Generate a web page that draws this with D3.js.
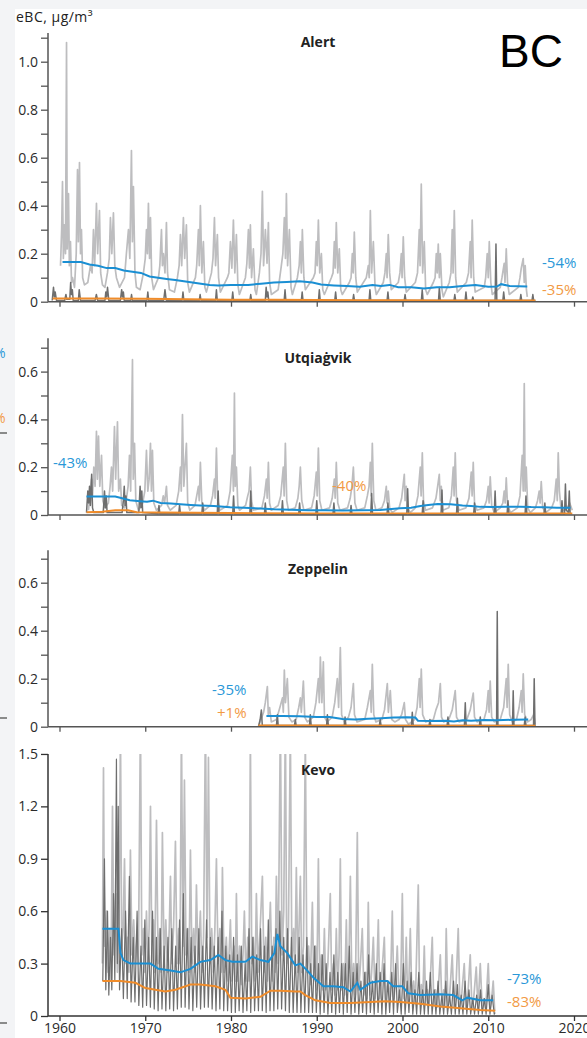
<!DOCTYPE html>
<html>
<head>
<meta charset="utf-8">
<script src="https://cdn.jsdelivr.net/npm/d3@7"></script>
<style>
  html, body { margin: 0; padding: 0; background: #ffffff; }
  svg { display: block; }
  text { font-family: 'Open Sans', 'DejaVu Sans', sans-serif; }
</style>
</head>
<body>
<svg id="chart" width="587" height="1038"></svg>
<script>
// ---------------------------------------------------------------
// eBC concentrations at four Arctic stations, [year, µg/m³]
// light grey / dark grey: individual records, blue / orange: trends
// ---------------------------------------------------------------

const xTickYears = [1960, 1970, 1980, 1990, 2000, 2010, 2020];

const alertLight = [
  [1960.12,0.15],[1960.25,0.3],[1960.35,0.5],[1960.45,0.18],[1960.58,0.32],[1960.7,0.2],[1960.82,1.08],[1960.9,0.22],[1961.05,0.45],[1961.15,0.15],[1961.28,0.25],[1961.4,0.08],[1961.52,0.1],[1961.75,0.06],
  [1961.95,0.2],[1962.1,0.55],[1962.2,0.25],[1962.33,0.58],[1962.45,0.2],[1962.56,0.3],[1962.7,0.1],[1962.91,0.07],[1963.3,0.08],
  [1963.61,0.15],[1963.8,0.12],[1963.96,0.3],[1964.1,0.15],[1964.31,0.41],[1964.45,0.2],[1964.66,0.38],[1964.8,0.12],[1965.01,0.07],[1965.3,0.06],
  [1965.59,0.12],[1965.8,0.18],[1965.94,0.35],[1966.1,0.2],[1966.29,0.37],[1966.45,0.15],[1966.64,0.1],[1967.0,0.06],
  [1967.58,0.1],[1967.8,0.2],[1968.04,0.3],[1968.2,0.18],[1968.39,0.63],[1968.5,0.25],[1968.62,0.48],[1968.8,0.12],[1968.97,0.06],
  [1969.4,0.05],[1969.79,0.12],[1970.0,0.18],[1970.14,0.3],[1970.25,0.2],[1970.37,0.41],[1970.5,0.18],[1970.61,0.35],[1970.75,0.1],[1970.96,0.05],
  [1971.54,0.1],[1971.7,0.15],[1971.89,0.3],[1972.0,0.15],[1972.12,0.2],[1972.3,0.12],[1972.47,0.33],[1972.6,0.12],[1972.82,0.05],
  [1973.4,0.04],[1973.75,0.1],[1973.95,0.15],[1974.1,0.28],[1974.25,0.15],[1974.45,0.35],[1974.6,0.18],[1974.8,0.32],[1974.95,0.08],[1975.15,0.04],
  [1975.85,0.1],[1976.0,0.15],[1976.2,0.3],[1976.3,0.15],[1976.43,0.4],[1976.6,0.12],[1976.78,0.25],[1976.95,0.06],[1977.13,0.04],
  [1977.72,0.12],[1977.9,0.18],[1978.07,0.35],[1978.2,0.15],[1978.41,0.28],[1978.55,0.1],[1978.76,0.04],
  [1979.58,0.1],[1979.75,0.12],[1979.93,0.25],[1980.1,0.14],[1980.28,0.34],[1980.45,0.12],[1980.63,0.28],[1980.8,0.07],[1980.98,0.03],
  [1981.68,0.1],[1981.85,0.16],[1982.03,0.3],[1982.15,0.14],[1982.26,0.32],[1982.4,0.1],[1982.61,0.22],[1982.8,0.05],[1982.96,0.03],
  [1983.31,0.12],[1983.5,0.2],[1983.66,0.46],[1983.8,0.15],[1984.01,0.3],[1984.2,0.16],[1984.36,0.33],[1984.5,0.08],[1984.71,0.03],
  [1985.5,0.05],[1985.87,0.15],[1986.05,0.2],[1986.22,0.35],[1986.35,0.18],[1986.46,0.45],[1986.6,0.15],[1986.81,0.3],[1987.0,0.06],[1987.16,0.03],
  [1987.74,0.1],[1987.95,0.15],[1988.09,0.25],[1988.2,0.12],[1988.32,0.3],[1988.5,0.1],[1988.67,0.05],
  [1989.6,0.1],[1989.8,0.12],[1989.95,0.25],[1990.05,0.15],[1990.19,0.34],[1990.35,0.12],[1990.54,0.2],[1990.7,0.05],[1990.89,0.03],
  [1991.7,0.1],[1991.9,0.12],[1992.05,0.25],[1992.15,0.14],[1992.28,0.33],[1992.45,0.12],[1992.63,0.22],[1992.8,0.05],[1992.98,0.03],
  [1993.8,0.08],[1994.0,0.1],[1994.15,0.2],[1994.25,0.12],[1994.38,0.29],[1994.55,0.1],[1994.73,0.04],
  [1995.78,0.1],[1996.01,0.15],[1996.12,0.1],[1996.25,0.38],[1996.4,0.12],[1996.6,0.25],[1996.8,0.06],[1996.95,0.03],
  [1997.76,0.08],[1997.95,0.12],[1998.11,0.2],[1998.2,0.1],[1998.34,0.28],[1998.5,0.12],[1998.69,0.05],
  [1999.51,0.08],[1999.7,0.12],[1999.86,0.2],[1999.95,0.1],[2000.09,0.27],[2000.25,0.1],[2000.44,0.04],
  [2001.49,0.08],[2001.75,0.12],[2001.96,0.3],[2002.05,0.15],[2002.19,0.49],[2002.35,0.12],[2002.54,0.25],[2002.7,0.05],[2002.89,0.03],
  [2003.59,0.08],[2003.8,0.1],[2003.94,0.2],[2004.05,0.12],[2004.17,0.24],[2004.3,0.1],[2004.41,0.2],[2004.6,0.05],[2004.76,0.02],
  [2005.45,0.08],[2005.65,0.12],[2005.8,0.3],[2005.9,0.12],[2006.04,0.38],[2006.2,0.1],[2006.39,0.04],
  [2007.44,0.08],[2007.7,0.12],[2007.9,0.25],[2008.0,0.1],[2008.13,0.34],[2008.3,0.1],[2008.48,0.04],
  [2009.53,0.06],[2009.7,0.1],[2009.88,0.2],[2010.0,0.1],[2010.12,0.25],[2010.3,0.08],[2010.47,0.03],
  [2011.4,0.06],[2011.6,0.1],[2011.86,0.16],[2011.95,0.08],[2012.1,0.22],[2012.25,0.08],[2012.45,0.03],
  [2013.5,0.06],[2013.7,0.1],[2013.85,0.14],[2014.08,0.18],[2014.2,0.08],[2014.31,0.15],[2014.45,0.05],[2014.55,0.02]
];
const alertDark = [
  [1959.15,0.005],[1959.3,0.06],[1959.4,0.02],[1959.5,0.04],[1959.65,0.005],
  [1960.6,0.005],[1960.75,0.03],[1960.85,0.01],[1961.2,0.01],[1961.3,0.08],[1961.4,0.03],[1961.5,0.05],[1961.6,0.005],
  [1962.2,0.005],[1962.3,0.05],[1962.45,0.005],
  [1964.15,0.005],[1964.3,0.03],[1964.45,0.005],
  [1965.3,0.005],[1965.4,0.04],[1965.5,0.02],[1965.6,0.06],[1965.75,0.005],
  [1967.1,0.005],[1967.25,0.05],[1967.35,0.02],[1967.45,0.04],[1967.55,0.005],
  [1968.3,0.005],[1968.4,0.03],[1968.5,0.005],
  [1970.2,0.005],[1970.3,0.04],[1970.4,0.005],
  [1972.15,0.005],[1972.3,0.05],[1972.45,0.005],
  [1974.3,0.005],[1974.4,0.04],[1974.5,0.005],
  [1976.3,0.005],[1976.4,0.03],[1976.5,0.005],
  [1978.2,0.005],[1978.3,0.05],[1978.4,0.005],
  [1980.1,0.005],[1980.2,0.04],[1980.3,0.005],
  [1982.2,0.005],[1982.3,0.03],[1982.4,0.005],
  [1984.0,0.005],[1984.1,0.06],[1984.2,0.02],[1984.3,0.04],[1984.4,0.005],
  [1986.2,0.005],[1986.3,0.05],[1986.4,0.005],
  [1988.2,0.005],[1988.3,0.04],[1988.4,0.005],
  [1990.2,0.005],[1990.3,0.05],[1990.4,0.005],
  [1992.1,0.005],[1992.2,0.04],[1992.3,0.005],
  [1994.2,0.005],[1994.3,0.03],[1994.4,0.005],
  [1996.1,0.005],[1996.2,0.05],[1996.3,0.005],
  [1998.2,0.005],[1998.3,0.04],[1998.4,0.005],
  [2000.2,0.005],[2000.3,0.03],[2000.4,0.005],
  [2002.2,0.005],[2002.3,0.05],[2002.4,0.005],
  [2004.2,0.005],[2004.3,0.06],[2004.4,0.005],
  [2006.0,0.005],[2006.1,0.03],[2006.2,0.005],
  [2007.3,0.005],[2007.4,0.04],[2007.5,0.005],
  [2008.1,0.005],[2008.2,0.02],[2008.3,0.005],
  [2010.8,0.005],[2010.9,0.24],[2011.0,0.005],
  [2011.7,0.005],[2011.8,0.04],[2011.9,0.005],
  [2013.7,0.005],[2013.8,0.03],[2013.9,0.005],
  [2015.1,0.005],[2015.2,0.03],[2015.3,0.005],[2015.5,0.005]
];
const alertBlue = [
  [1960.35,0.165],[1962.5,0.165],[1963.5,0.155],[1964.5,0.15],[1965.5,0.14],[1966.5,0.14],[1967.5,0.13],[1968.5,0.125],[1969.5,0.12],[1970.5,0.105],
  [1971.5,0.1],[1972.5,0.095],[1973.5,0.09],[1974.5,0.085],[1975.5,0.08],[1976.5,0.075],[1977.5,0.07],[1978.5,0.068],[1980,0.07],[1982,0.07],
  [1983.5,0.075],[1985,0.08],[1986.5,0.082],[1988,0.085],[1989.5,0.08],[1990.5,0.072],[1992,0.068],[1993.5,0.065],[1995,0.062],[1996.5,0.07],
  [1997.5,0.065],[1998.5,0.07],[1999.5,0.06],[2001,0.06],[2002.5,0.055],[2004,0.06],[2005.5,0.06],[2007,0.065],[2008.5,0.07],[2010,0.062],
  [2011,0.063],[2011.5,0.073],[2012.5,0.065],[2014.55,0.063]
];
const alertOrange = [
  [1959.2,0.013],[1965,0.013],[1970,0.012],[1975,0.01],[1980,0.008],[1985,0.008],[1990,0.007],[1995,0.006],[2000,0.006],[2005,0.005],[2010,0.005],[2015.5,0.005]
];

const utqLight = [
  [1963.38,0.02],[1963.6,0.1],[1963.73,0.15],[1963.85,0.08],[1964.0,0.2],[1964.15,0.12],[1964.31,0.35],[1964.42,0.15],[1964.55,0.33],[1964.7,0.12],[1964.9,0.25],[1965.05,0.06],[1965.3,0.03],
  [1965.7,0.05],[1965.9,0.12],[1966.06,0.2],[1966.2,0.1],[1966.41,0.37],[1966.55,0.15],[1966.76,0.39],[1966.9,0.1],[1967.1,0.15],[1967.25,0.04],[1967.6,0.03],
  [1967.85,0.08],[1968.0,0.12],[1968.16,0.25],[1968.3,0.1],[1968.51,0.65],[1968.6,0.15],[1968.75,0.3],[1968.9,0.06],[1969.2,0.02],
  [1969.7,0.05],[1969.95,0.1],[1970.14,0.27],[1970.3,0.1],[1970.45,0.15],[1970.61,0.3],[1970.72,0.1],[1970.84,0.27],[1971.0,0.05],[1971.3,0.02],
  [1971.9,0.04],[1972.1,0.08],[1972.25,0.05],[1972.47,0.12],[1972.6,0.04],[1972.9,0.02],
  [1973.6,0.04],[1973.9,0.1],[1974.1,0.2],[1974.2,0.1],[1974.34,0.42],[1974.5,0.12],[1974.8,0.3],[1974.95,0.05],[1975.2,0.02],
  [1975.8,0.04],[1976.0,0.08],[1976.2,0.12],[1976.3,0.06],[1976.43,0.22],[1976.6,0.05],[1976.9,0.02],
  [1977.6,0.04],[1977.85,0.08],[1978.07,0.15],[1978.15,0.07],[1978.3,0.28],[1978.45,0.06],[1978.7,0.02],
  [1979.6,0.04],[1979.9,0.1],[1980.16,0.25],[1980.28,0.1],[1980.4,0.51],[1980.5,0.12],[1980.63,0.2],[1980.8,0.04],[1981.0,0.02],
  [1981.7,0.04],[1981.95,0.08],[1982.1,0.1],[1982.26,0.2],[1982.4,0.06],[1982.6,0.02],
  [1983.6,0.03],[1983.9,0.08],[1984.13,0.15],[1984.22,0.07],[1984.36,0.22],[1984.5,0.05],[1984.7,0.02],
  [1985.5,0.04],[1985.8,0.08],[1986.1,0.2],[1986.2,0.08],[1986.34,0.3],[1986.5,0.06],[1986.7,0.02],
  [1987.5,0.03],[1987.8,0.07],[1987.95,0.12],[1988.09,0.2],[1988.25,0.06],[1988.5,0.02],
  [1989.4,0.03],[1989.7,0.08],[1989.95,0.18],[1990.05,0.08],[1990.19,0.28],[1990.35,0.06],[1990.6,0.02],
  [1991.5,0.03],[1991.8,0.07],[1992.05,0.15],[1992.15,0.07],[1992.28,0.22],[1992.45,0.05],[1992.7,0.02],
  [1993.6,0.03],[1993.9,0.07],[1994.1,0.12],[1994.27,0.2],[1994.45,0.05],[1994.7,0.02],
  [1995.6,0.03],[1995.9,0.08],[1996.1,0.12],[1996.25,0.22],[1996.35,0.08],[1996.48,0.3],[1996.65,0.06],[1996.9,0.02],
  [1997.6,0.03],[1997.9,0.06],[1998.11,0.12],[1998.2,0.05],[1998.34,0.1],[1998.5,0.03],[1998.8,0.01],
  [1999.6,0.03],[1999.9,0.07],[2000.21,0.17],[2000.3,0.06],[2000.44,0.12],[2000.6,0.03],[2000.9,0.01],
  [2001.5,0.03],[2001.8,0.08],[2002.07,0.2],[2002.17,0.08],[2002.31,0.26],[2002.45,0.06],[2002.7,0.02],
  [2003.5,0.03],[2003.9,0.07],[2004.1,0.12],[2004.29,0.17],[2004.4,0.06],[2004.52,0.12],[2004.7,0.02],
  [2005.4,0.03],[2005.7,0.08],[2005.92,0.2],[2006.02,0.08],[2006.15,0.26],[2006.3,0.06],[2006.6,0.02],
  [2007.4,0.03],[2007.75,0.07],[2008.02,0.18],[2008.12,0.08],[2008.25,0.22],[2008.4,0.05],[2008.7,0.02],
  [2009.5,0.03],[2009.8,0.06],[2010.0,0.12],[2010.1,0.05],[2010.23,0.16],[2010.4,0.04],[2010.7,0.01],
  [2011.4,0.03],[2011.7,0.05],[2011.86,0.1],[2011.97,0.05],[2012.1,0.155],[2012.25,0.04],[2012.6,0.01],
  [2013.4,0.03],[2013.7,0.08],[2013.96,0.25],[2014.08,0.1],[2014.2,0.55],[2014.3,0.1],[2014.43,0.2],[2014.6,0.03],[2014.9,0.01],
  [2015.5,0.03],[2015.75,0.06],[2015.94,0.1],[2016.05,0.05],[2016.18,0.14],[2016.35,0.03],[2016.7,0.01],
  [2017.4,0.03],[2017.7,0.06],[2017.93,0.15],[2018.05,0.06],[2018.16,0.26],[2018.3,0.1],[2018.45,0.04],[2018.8,0.02],[2019.2,0.03],[2019.5,0.05],[2019.8,0.02]
];
const utqDark = [
  [1963.15,0.01],[1963.3,0.1],[1963.4,0.05],[1963.5,0.12],[1963.6,0.04],[1963.75,0.17],[1963.85,0.03],[1964.0,0.01],
  [1965.1,0.01],[1965.25,0.1],[1965.35,0.03],[1965.45,0.08],[1965.55,0.01],
  [1967.3,0.01],[1967.45,0.06],[1967.55,0.12],[1967.65,0.04],[1967.75,0.08],[1967.85,0.01],
  [1969.25,0.01],[1969.4,0.12],[1969.5,0.03],[1969.6,0.1],[1969.7,0.01],
  [1971.5,0.005],[1971.6,0.04],[1971.7,0.005],
  [1973.9,0.005],[1974.0,0.04],[1974.1,0.005],
  [1976.6,0.005],[1976.7,0.05],[1976.8,0.005],
  [1978.4,0.005],[1978.5,0.1],[1978.6,0.005],
  [1980.2,0.005],[1980.3,0.08],[1980.4,0.005],
  [1982.2,0.005],[1982.3,0.1],[1982.4,0.005],
  [1983.9,0.005],[1984.0,0.05],[1984.1,0.005],
  [1985.9,0.005],[1986.0,0.06],[1986.1,0.005],
  [1987.9,0.005],[1988.0,0.05],[1988.1,0.005],
  [1989.9,0.005],[1990.0,0.06],[1990.1,0.005],
  [1991.9,0.005],[1992.0,0.05],[1992.1,0.005],
  [1993.9,0.005],[1994.0,0.04],[1994.1,0.005],
  [1996.3,0.005],[1996.4,0.09],[1996.5,0.005],
  [1998.2,0.005],[1998.3,0.05],[1998.4,0.005],
  [2000.5,0.005],[2000.6,0.11],[2000.7,0.005],
  [2002.3,0.005],[2002.4,0.06],[2002.5,0.005],
  [2004.5,0.005],[2004.6,0.105],[2004.7,0.005],
  [2006.3,0.005],[2006.4,0.07],[2006.5,0.005],
  [2008.3,0.005],[2008.4,0.05],[2008.5,0.005],
  [2010.7,0.005],[2010.8,0.1],[2010.9,0.005],
  [2012.2,0.005],[2012.3,0.06],[2012.4,0.005],
  [2014.3,0.005],[2014.4,0.08],[2014.5,0.005],
  [2016.5,0.005],[2016.6,0.05],[2016.7,0.005],
  [2018.5,0.005],[2018.6,0.06],[2018.7,0.005],
  [2018.9,0.005],[2019.0,0.13],[2019.1,0.02],[2019.35,0.01],[2019.45,0.1],[2019.55,0.005]
];
const utqBlue = [
  [1963.15,0.077],[1966.5,0.077],[1967.3,0.07],[1968.2,0.062],[1969.4,0.058],[1970.2,0.055],[1970.9,0.06],[1971.8,0.05],[1973,0.048],[1974.1,0.045],
  [1975.3,0.042],[1976.4,0.04],[1978,0.038],[1979.9,0.032],[1981.5,0.03],[1983.4,0.027],[1985,0.024],[1986.9,0.022],[1989,0.02],[1991,0.02],
  [1993,0.019],[1995,0.02],[1997.4,0.021],[1999.7,0.028],[2001,0.03],[2002.1,0.038],[2003,0.042],[2004.1,0.046],[2005.6,0.045],[2007,0.04],
  [2008,0.038],[2009.1,0.034],[2010.5,0.033],[2012,0.034],[2013.7,0.035],[2015,0.033],[2016.5,0.032],[2018,0.03],[2019.6,0.03]
];
const utqOrange = [
  [1963.15,0.012],[1965,0.014],[1966.5,0.02],[1968,0.02],[1969,0.012],[1972,0.01],[1980,0.008],[1990,0.006],[2000,0.006],[2010,0.006],[2019.8,0.006]
];

const zepLight = [
  [1983.2,0.0],[1983.5,0.03],[1983.8,0.06],[1984.0,0.1],[1984.24,0.167],[1984.35,0.05],[1984.5,0.08],[1984.7,0.02],[1985.3,0.03],[1985.7,0.08],
  [1986.0,0.12],[1986.1,0.06],[1986.22,0.236],[1986.35,0.1],[1986.57,0.2],[1986.75,0.04],[1987.1,0.02],[1987.6,0.03],[1987.9,0.08],[1988.09,0.12],
  [1988.2,0.06],[1988.44,0.19],[1988.6,0.04],[1988.9,0.02],[1989.6,0.04],[1989.9,0.1],[1990.19,0.2],[1990.3,0.1],[1990.42,0.29],[1990.6,0.1],
  [1990.77,0.27],[1990.9,0.04],[1991.2,0.02],[1991.8,0.04],[1992.1,0.1],[1992.4,0.2],[1992.55,0.08],[1992.75,0.33],[1992.9,0.05],[1993.2,0.02],
  [1993.7,0.04],[1994.0,0.08],[1994.27,0.18],[1994.4,0.05],[1994.7,0.02],[1995.6,0.03],[1995.9,0.08],[1996.25,0.15],[1996.35,0.06],[1996.48,0.26],
  [1996.65,0.05],[1996.9,0.02],[1997.6,0.03],[1997.9,0.07],[1998.23,0.18],[1998.35,0.06],[1998.58,0.15],[1998.75,0.03],[1999.1,0.02],[1999.6,0.03],
  [1999.9,0.05],[2000.21,0.1],[2000.35,0.03],[2000.7,0.01],[2001.4,0.03],[2001.7,0.08],[2001.96,0.2],[2002.05,0.08],[2002.19,0.24],[2002.35,0.05],
  [2002.7,0.02],[2003.6,0.03],[2003.9,0.07],[2004.2,0.1],[2004.41,0.18],[2004.55,0.04],[2004.8,0.02],[2005.4,0.03],[2005.8,0.07],[2006.15,0.15],
  [2006.3,0.04],[2006.6,0.02],[2007.5,0.03],[2007.9,0.07],[2008.25,0.14],[2008.4,0.04],[2008.7,0.02],[2009.5,0.03],[2009.8,0.07],[2010.0,0.15],
  [2010.1,0.06],[2010.23,0.19],[2010.4,0.04],[2010.7,0.02],[2011.4,0.03],[2011.8,0.08],[2012.1,0.2],[2012.2,0.08],[2012.33,0.26],[2012.5,0.05],
  [2012.8,0.02],[2013.3,0.03],[2013.6,0.08],[2013.85,0.15],[2013.95,0.06],[2014.08,0.22],[2014.25,0.05],[2014.6,0.02],[2015.0,0.03],[2015.3,0.05],
  [2015.48,0.01]
];
const zepDark = [
  [1983.2,0.0],[1983.4,0.03],[1983.54,0.07],[1983.65,0.005],
  [1985.3,0.005],[1985.41,0.05],[1985.5,0.005],
  [1987.4,0.005],[1987.5,0.03],[1987.6,0.005],
  [1989.15,0.005],[1989.25,0.05],[1989.35,0.005],
  [1991.15,0.005],[1991.24,0.05],[1991.35,0.005],
  [1993.2,0.005],[1993.3,0.04],[1993.4,0.005],
  [1997.3,0.005],[1997.4,0.03],[1997.5,0.005],
  [2001.05,0.005],[2001.14,0.06],[2001.25,0.005],
  [2003.1,0.005],[2003.2,0.03],[2003.3,0.005],
  [2005.2,0.005],[2005.3,0.04],[2005.4,0.005],
  [2007.22,0.005],[2007.32,0.1],[2007.42,0.005],
  [2008.97,0.005],[2009.07,0.04],[2009.17,0.005],
  [2010.97,0.005],[2011.05,0.48],[2011.13,0.005],
  [2012.83,0.005],[2012.91,0.15],[2013.0,0.005],
  [2014.2,0.005],[2014.3,0.04],[2014.4,0.005],
  [2015.28,0.005],[2015.36,0.2],[2015.45,0.0]
];
const zepBlue = [
  [1984.13,0.045],[1986,0.045],[1988,0.044],[1990,0.04],[1991.5,0.04],[1993,0.032],[1994.5,0.03],[1996,0.033],[1997.5,0.035],[1999,0.038],
  [2000.5,0.039],[2001.5,0.038],[2001.8,0.025],[2003.5,0.024],[2005,0.025],[2006,0.022],[2007,0.027],[2008,0.025],[2009.5,0.028],[2011,0.027],
  [2013,0.029],[2014.66,0.03]
];
const zepOrange = [
  [1983.2,0.005],[1990,0.005],[2000,0.004],[2010,0.004],[2015.5,0.004]
];

const kevoLight = [
  [1965.0,0.3],[1965.13,1.42],[1965.25,0.4],[1965.48,0.6],[1965.65,0.25],[1965.85,0.5],[1966.0,0.2],[1966.18,1.2],[1966.35,0.35],[1966.55,0.7],
  [1966.75,0.25],[1966.95,0.6],[1967.11,1.65],[1967.25,0.4],[1967.42,0.5],[1967.58,0.9],[1967.75,0.3],[1967.95,0.45],[1968.1,0.25],[1968.27,0.95],
  [1968.45,0.35],[1968.65,0.55],[1968.85,0.3],[1969.05,0.45],[1969.2,0.3],[1969.44,1.7],[1969.6,0.35],[1969.8,0.5],[1969.95,0.25],[1970.14,0.6],
  [1970.3,0.3],[1970.45,0.5],[1970.61,1.2],[1970.78,0.3],[1970.95,0.55],[1971.1,0.25],[1971.31,1.12],[1971.5,0.3],[1971.7,0.5],[1971.85,0.25],
  [1972.0,1.05],[1972.2,0.3],[1972.4,0.55],[1972.6,0.25],[1972.8,0.5],[1972.94,0.8],[1973.1,0.3],[1973.3,0.5],[1973.52,1.0],[1973.7,0.3],
  [1973.9,0.5],[1974.05,0.3],[1974.22,1.65],[1974.4,0.4],[1974.57,1.35],[1974.75,0.35],[1974.95,0.5],[1975.1,0.25],[1975.27,0.95],[1975.45,0.3],
  [1975.65,0.5],[1975.8,0.25],[1975.97,0.75],[1976.15,0.3],[1976.43,0.6],[1976.6,0.25],[1976.8,0.45],[1977.02,1.7],[1977.2,0.45],[1977.37,1.48],
  [1977.55,0.3],[1977.75,0.5],[1977.95,0.25],[1978.12,0.5],[1978.3,0.9],[1978.5,0.3],[1978.7,0.5],[1978.85,0.25],[1979.0,0.85],[1979.2,0.25],
  [1979.45,0.45],[1979.65,0.2],[1979.93,0.55],[1980.1,0.2],[1980.35,0.4],[1980.5,0.2],[1980.63,0.7],[1980.8,0.2],[1981.0,0.4],[1981.2,0.18],
  [1981.4,0.35],[1981.56,0.6],[1981.75,0.2],[1981.95,0.45],[1982.1,0.2],[1982.26,1.6],[1982.42,0.3],[1982.6,0.45],[1982.8,0.2],[1982.96,0.7],
  [1983.15,0.25],[1983.4,0.5],[1983.66,0.8],[1983.85,0.25],[1984.05,0.45],[1984.25,0.2],[1984.4,0.4],[1984.59,0.65],[1984.8,0.2],[1985.0,0.45],
  [1985.15,0.25],[1985.29,0.8],[1985.5,0.3],[1985.76,1.7],[1985.95,0.35],[1986.15,0.6],[1986.34,1.7],[1986.5,0.3],[1986.7,0.5],[1986.92,1.65],
  [1987.1,0.3],[1987.3,0.5],[1987.45,0.25],[1987.62,0.85],[1987.8,0.25],[1988.09,0.8],[1988.25,0.25],[1988.45,0.4],[1988.67,1.6],[1988.85,0.25],
  [1989.05,0.4],[1989.25,0.18],[1989.49,0.65],[1989.65,0.2],[1989.85,0.4],[1990.0,0.15],[1990.19,0.9],[1990.35,0.2],[1990.55,0.35],[1990.7,0.15],
  [1990.89,0.5],[1991.05,0.15],[1991.3,0.3],[1991.58,0.7],[1991.75,0.15],[1991.95,0.3],[1992.1,0.12],[1992.28,0.5],[1992.45,0.15],[1992.6,0.35],
  [1992.75,0.9],[1992.9,0.15],[1993.1,0.3],[1993.25,0.12],[1993.45,0.55],[1993.6,0.15],[1993.75,0.3],[1993.92,0.8],[1994.1,0.15],[1994.3,0.3],
  [1994.5,0.12],[1994.73,1.05],[1994.9,0.15],[1995.1,0.3],[1995.31,0.5],[1995.5,0.12],[1995.7,0.25],[1995.85,0.1],[1996.01,0.65],[1996.2,0.12],
  [1996.4,0.25],[1996.6,0.45],[1996.8,0.1],[1997.0,0.25],[1997.18,0.55],[1997.35,0.1],[1997.6,0.25],[1997.88,0.45],[1998.05,0.1],[1998.3,0.2],
  [1998.55,0.08],[1998.81,0.6],[1999.0,0.1],[1999.2,0.2],[1999.39,0.4],[1999.6,0.08],[1999.8,0.2],[1999.98,0.7],[2000.15,0.1],[2000.3,0.2],
  [2000.44,0.45],[2000.6,0.08],[2000.75,0.2],[2000.91,0.5],[2001.1,0.08],[2001.3,0.2],[2001.5,0.07],[2001.84,0.75],[2002.0,0.08],[2002.2,0.18],
  [2002.35,0.07],[2002.54,0.4],[2002.7,0.07],[2002.9,0.15],[2003.1,0.06],[2003.47,0.45],[2003.65,0.06],[2003.85,0.15],[2004.05,0.05],[2004.41,0.35],
  [2004.6,0.05],[2004.8,0.15],[2004.95,0.05],[2005.1,0.5],[2005.3,0.05],[2005.5,0.12],[2005.8,0.35],[2006.0,0.05],[2006.2,0.12],[2006.5,0.5],
  [2006.7,0.05],[2006.9,0.12],[2007.2,0.3],[2007.4,0.04],[2007.6,0.1],[2007.9,0.35],[2008.1,0.04],[2008.3,0.1],[2008.6,0.28],[2008.8,0.04],
  [2009.07,0.3],[2009.3,0.04],[2009.5,0.1],[2009.7,0.04],[2010.0,0.3],[2010.2,0.04],[2010.4,0.1],[2010.58,0.2],[2010.75,0.03]
];
const kevoDark = [
  [1965.05,0.2],[1965.24,0.9],[1965.4,0.15],[1965.6,0.6],[1965.75,0.12],[1965.95,0.45],[1966.1,0.15],[1966.3,0.7],[1966.45,0.2],[1966.64,1.47],
  [1966.75,0.3],[1966.85,1.2],[1967.0,0.15],[1967.25,0.5],[1967.45,0.1],[1967.7,0.6],[1967.9,0.1],[1968.15,0.8],[1968.35,0.08],[1968.6,0.45],
  [1968.8,0.08],[1969.05,0.6],[1969.25,0.06],[1969.5,0.4],[1969.7,0.05],[1969.95,0.55],[1970.15,0.06],[1970.4,0.45],[1970.6,0.05],[1970.85,0.6],
  [1971.05,0.04],[1971.3,0.45],[1971.5,0.03],[1971.75,0.5],[1971.95,0.04],[1972.2,0.4],[1972.4,0.03],[1972.65,0.45],[1972.85,0.04],[1973.1,0.5],
  [1973.3,0.03],[1973.55,0.4],[1973.75,0.04],[1974.0,0.55],[1974.2,0.05],[1974.45,0.7],[1974.65,0.05],[1974.9,0.5],[1975.1,0.04],[1975.35,0.45],
  [1975.55,0.03],[1975.8,0.4],[1976.0,0.05],[1976.25,0.5],[1976.45,0.04],[1976.7,0.4],[1976.9,0.05],[1977.15,0.55],[1977.35,0.05],[1977.6,0.45],
  [1977.8,0.04],[1978.05,0.4],[1978.25,0.03],[1978.5,0.45],[1978.7,0.04],[1978.95,0.6],[1979.15,0.03],[1979.4,0.4],[1979.6,0.03],[1979.85,0.35],
  [1980.05,0.02],[1980.3,0.45],[1980.5,0.02],[1980.75,0.35],[1980.95,0.03],[1981.2,0.4],[1981.4,0.02],[1981.65,0.3],[1981.85,0.03],[1982.1,0.5],
  [1982.3,0.02],[1982.55,0.45],[1982.75,0.03],[1983.0,0.35],[1983.2,0.03],[1983.45,0.5],[1983.65,0.03],[1983.9,0.4],[1984.1,0.02],[1984.35,0.55],
  [1984.55,0.03],[1984.8,0.4],[1985.0,0.03],[1985.25,0.5],[1985.45,0.04],[1985.7,0.6],[1985.9,0.04],[1986.15,0.45],[1986.35,0.03],[1986.6,0.5],
  [1986.8,0.02],[1987.05,0.45],[1987.25,0.02],[1987.5,0.35],[1987.7,0.02],[1987.95,0.45],[1988.15,0.02],[1988.4,0.35],[1988.6,0.02],[1988.85,0.45],
  [1989.05,0.02],[1989.3,0.3],[1989.5,0.02],[1989.75,0.4],[1989.95,0.02],[1990.2,0.3],[1990.4,0.01],[1990.65,0.35],[1990.85,0.02],[1991.1,0.3],
  [1991.3,0.01],[1991.55,0.25],[1991.75,0.02],[1992.0,0.35],[1992.2,0.01],[1992.45,0.25],[1992.65,0.02],[1992.9,0.3],[1993.1,0.01],[1993.35,0.3],
  [1993.55,0.02],[1993.8,0.4],[1994.0,0.01],[1994.25,0.25],[1994.45,0.02],[1994.7,0.3],[1994.9,0.01],[1995.15,0.2],[1995.35,0.02],[1995.6,0.25],
  [1995.8,0.01],[1996.05,0.35],[1996.25,0.02],[1996.5,0.2],[1996.7,0.01],[1996.95,0.3],[1997.15,0.02],[1997.4,0.25],[1997.6,0.01],[1997.85,0.3],
  [1998.05,0.01],[1998.3,0.2],[1998.5,0.02],[1998.75,0.25],[1998.95,0.01],[1999.2,0.3],[1999.4,0.02],[1999.65,0.15],[1999.85,0.01],[2000.1,0.3],
  [2000.3,0.01],[2000.55,0.2],[2000.75,0.02],[2001.0,0.25],[2001.2,0.01],[2001.45,0.15],[2001.65,0.01],[2001.9,0.25],[2002.1,0.01],[2002.35,0.15],
  [2002.55,0.01],[2002.8,0.2],[2003.0,0.01],[2003.25,0.25],[2003.45,0.01],[2003.7,0.15],[2003.9,0.01],[2004.15,0.2],[2004.35,0.01],[2004.6,0.12],
  [2004.8,0.01],[2005.05,0.2],[2005.25,0.01],[2005.5,0.12],[2005.7,0.01],[2005.95,0.2],[2006.15,0.01],[2006.4,0.18],[2006.6,0.01],[2006.85,0.12],
  [2007.05,0.01],[2007.3,0.2],[2007.5,0.01],[2007.75,0.15],[2007.95,0.01],[2008.2,0.1],[2008.4,0.01],[2008.65,0.12],[2008.85,0.01],[2009.1,0.15],
  [2009.3,0.01],[2009.55,0.1],[2009.75,0.01],[2010.0,0.18],[2010.2,0.01],[2010.45,0.12],[2010.7,0.01],[2010.8,0.02]
];
const kevoBlue = [
  [1965.01,0.5],[1966.88,0.5],[1967.11,0.36],[1967.46,0.32],[1968.27,0.3],[1970.61,0.3],[1971.54,0.27],[1972.94,0.26],[1974.1,0.25],[1975.27,0.27],
  [1976.43,0.31],[1977.6,0.32],[1978.53,0.35],[1979.35,0.32],[1980.16,0.31],[1981.68,0.31],[1982.49,0.34],[1983.43,0.32],[1984.36,0.31],[1985.06,0.36],
  [1985.41,0.47],[1985.76,0.4],[1986.57,0.36],[1987.5,0.29],[1988.09,0.3],[1988.9,0.26],[1989.6,0.22],[1990.77,0.17],[1991.93,0.17],[1993.1,0.165],
  [1993.92,0.14],[1994.73,0.19],[1995.08,0.15],[1996.25,0.19],[1997.41,0.2],[1998.23,0.2],[1998.93,0.17],[1999.98,0.17],[2000.68,0.13],[2002.07,0.12],
  [2004.41,0.125],[2005.92,0.12],[2006.97,0.09],[2007.55,0.105],[2009.07,0.09],[2010.58,0.09]
];
const kevoOrange = [
  [1965.01,0.2],[1967.11,0.2],[1968.86,0.19],[1970.02,0.16],[1972.35,0.14],[1973.52,0.15],[1975.27,0.18],[1976.43,0.18],[1978.18,0.17],[1979.35,0.15],
  [1979.93,0.105],[1981.68,0.1],[1983.43,0.11],[1984.59,0.145],[1985.76,0.145],[1987.5,0.14],[1988.09,0.14],[1988.67,0.12],[1989.84,0.09],[1991.58,0.075],
  [1993.92,0.075],[1996.25,0.08],[1998.0,0.085],[1999.74,0.08],[2002.07,0.07],[2004.41,0.055],[2006.74,0.045],[2009.07,0.035],[2010.82,0.03]
];

// Station titles, change labels and y-axis tick values
const stationNames = ["Alert", "Utqiaġvik", "Zeppelin", "Kevo"];
const blueLabels = ["-54%", "-43%", "-35%", "-73%"];
const orangeLabels = ["-35%", "-40%", "+1%", "-83%"];
const yTicksFine = [[0,0.1,0.2,0.3,0.4,0.5,0.6,0.7,0.8,0.9,1.0,1.1], [0,0.1,0.2,0.3,0.4,0.5,0.6,0.7], [0,0.1,0.2,0.3,0.4,0.5,0.6,0.7], [0,0.3,0.6,0.9,1.2,1.5]];
const yTickLabels = [[0,0.2,0.4,0.6,0.8,1.0], [0,0.2,0.4,0.6], [0,0.2,0.4,0.6], [0,0.3,0.6,0.9,1.2,1.5]];

// ---------------------------------------------------------------
// Layout
// ---------------------------------------------------------------
const W = 587, H = 1038;
const AX_LEFT = 48, AX_RIGHT = 587;
const BLUE = "#1a8fd3", ORANGE = "#f08c2a", LIGHT = "#bdbdbf", DARK = "#6e6e6e";
const BLUE_TXT = "#2a98d8", ORANGE_TXT = "#f29a45";

const panels = [
  { light: alertLight, dark: alertDark, blue: alertBlue, orange: alertOrange,
    zeroY: 301.7, unitPx: 240, axisTop: 1.12, axisColor: "#555", darkWidth: 1.5,
    titleY: 47, blueLbl: [542, 268], orangeLbl: [542, 295] },
  { light: utqLight, dark: utqDark, blue: utqBlue, orange: utqOrange,
    zeroY: 515, unitPx: 239, axisTop: 0.74, axisColor: "#555", darkWidth: 1.5,
    titleY: 363, blueLbl: [53, 468], orangeLbl: [332, 491] },
  { light: zepLight, dark: zepDark, blue: zepBlue, orange: zepOrange,
    zeroY: 726.7, unitPx: 240, axisTop: 0.735, axisColor: "#555", darkWidth: 1.5,
    titleY: 574, blueLbl: [212, 695], orangeLbl: [217, 718] },
  { light: kevoLight, dark: kevoDark, blue: kevoBlue, orange: kevoOrange,
    zeroY: 1016, unitPx: 174.7, axisTop: 1.5, axisColor: "#333", darkWidth: 1.2,
    titleY: 775, blueLbl: [507, 984], orangeLbl: [507, 1007] }
];

const svg = d3.select("#chart");

// page backdrop: pale margin strips along the top and left edges
svg.append("rect").attr("x", 0).attr("y", 0).attr("width", W).attr("height", H).attr("fill", "#ffffff");
svg.append("rect").attr("x", 0).attr("y", 0).attr("width", W).attr("height", 9).attr("fill", "#f3f4f6");
svg.append("rect").attr("x", 0).attr("y", 0).attr("width", 15).attr("height", H).attr("fill", "#f3f4f6");
// cut-off marks from the neighbouring figure at the left edge
svg.append("text").attr("x", -6).attr("y", 358).attr("fill", BLUE_TXT).attr("font-size", 14).text("%");
svg.append("text").attr("x", -6).attr("y", 423).attr("fill", ORANGE_TXT).attr("font-size", 14).text("%");
[433, 718, 1023].forEach(yy => {
  svg.append("line").attr("x1", 0).attr("x2", 7).attr("y1", yy).attr("y2", yy).attr("stroke", "#444").attr("stroke-width", 1.2);
});

const x = d3.scaleLinear().domain([1960, 2020]).range([59.5, 574]);

// unit label and panel tag
svg.append("text").attr("x", 16).attr("y", 22).attr("font-size", 14).attr("letter-spacing", 0.5)
  .attr("fill", "#222").text("eBC, µg/m³");
svg.append("text").attr("x", 499).attr("y", 67)
  .style("font-family", "'Liberation Sans', Arial, sans-serif")
  .attr("font-size", 46).attr("fill", "#000").text("BC");

panels.forEach((p, i) => {
  const y = d3.scaleLinear().domain([0, 1]).range([p.zeroY, p.zeroY - p.unitPx]);
  const g = svg.append("g");

  const clipId = "clip" + i;
  svg.append("clipPath").attr("id", clipId).append("rect")
    .attr("x", AX_LEFT).attr("y", y(p.axisTop))
    .attr("width", AX_RIGHT - AX_LEFT).attr("height", y(0) - y(p.axisTop) + 6);

  const line = d3.line().x(d => x(d[0])).y(d => y(d[1]));
  const plot = g.append("g").attr("clip-path", `url(#${clipId})`);

  plot.append("path").datum(p.light).attr("d", line)
    .attr("fill", "none").attr("stroke", LIGHT).attr("stroke-width", 1.7).attr("stroke-linejoin", "round");
  plot.append("path").datum(p.dark).attr("d", line)
    .attr("fill", "none").attr("stroke", DARK).attr("stroke-width", p.darkWidth).attr("stroke-linejoin", "round");
  plot.append("path").datum(p.orange).attr("d", line)
    .attr("fill", "none").attr("stroke", ORANGE).attr("stroke-width", 2);
  plot.append("path").datum(p.blue).attr("d", line)
    .attr("fill", "none").attr("stroke", BLUE).attr("stroke-width", 2);

  // y axis
  const fmt = v => v === 0 ? "0" : d3.format(".1f")(v);
  const yAxis = d3.axisLeft(y).tickValues(yTicksFine[i]).tickSize(7).tickPadding(3)
    .tickFormat(v => yTickLabels[i].some(t => Math.abs(t - v) < 1e-9) ? fmt(v) : "");
  const ya = g.append("g").attr("transform", `translate(${AX_LEFT},0)`).call(yAxis);
  ya.select(".domain").remove();
  ya.selectAll(".tick line").attr("stroke", p.axisColor).attr("stroke-width", 1.3);
  ya.selectAll(".tick text").attr("font-size", 14).attr("fill", "#2b2b2b")
    .style("font-family", "'Open Sans', 'DejaVu Sans', sans-serif");
  g.append("line").attr("x1", AX_LEFT).attr("x2", AX_LEFT)
    .attr("y1", y(0)).attr("y2", y(p.axisTop))
    .attr("stroke", p.axisColor).attr("stroke-width", 1.5);

  // x axis
  const xAxis = d3.axisBottom(x).tickValues(xTickYears).tickSize(5).tickPadding(2)
    .tickFormat(i === 3 ? d3.format("d") : () => "");
  const xa = g.append("g").attr("transform", `translate(0,${y(0)})`).call(xAxis);
  xa.select(".domain").remove();
  xa.selectAll(".tick line").attr("stroke", p.axisColor).attr("stroke-width", 1.3);
  xa.selectAll(".tick text").attr("font-size", 14).attr("fill", "#2b2b2b")
    .style("font-family", "'Open Sans', 'DejaVu Sans', sans-serif");
  g.append("line").attr("x1", AX_LEFT).attr("x2", AX_RIGHT)
    .attr("y1", y(0)).attr("y2", y(0))
    .attr("stroke", p.axisColor).attr("stroke-width", 1.5);

  // station name
  g.append("text").attr("x", 318).attr("y", p.titleY).attr("text-anchor", "middle")
    .attr("font-size", 14).attr("font-weight", "bold").attr("fill", "#222").text(stationNames[i]);

  // change labels
  g.append("text").attr("x", p.blueLbl[0]).attr("y", p.blueLbl[1])
    .attr("font-size", 15).attr("fill", BLUE_TXT).text(blueLabels[i]);
  g.append("text").attr("x", p.orangeLbl[0]).attr("y", p.orangeLbl[1])
    .attr("font-size", 15).attr("fill", ORANGE_TXT).text(orangeLabels[i]);
});
</script>
</body>
</html>
